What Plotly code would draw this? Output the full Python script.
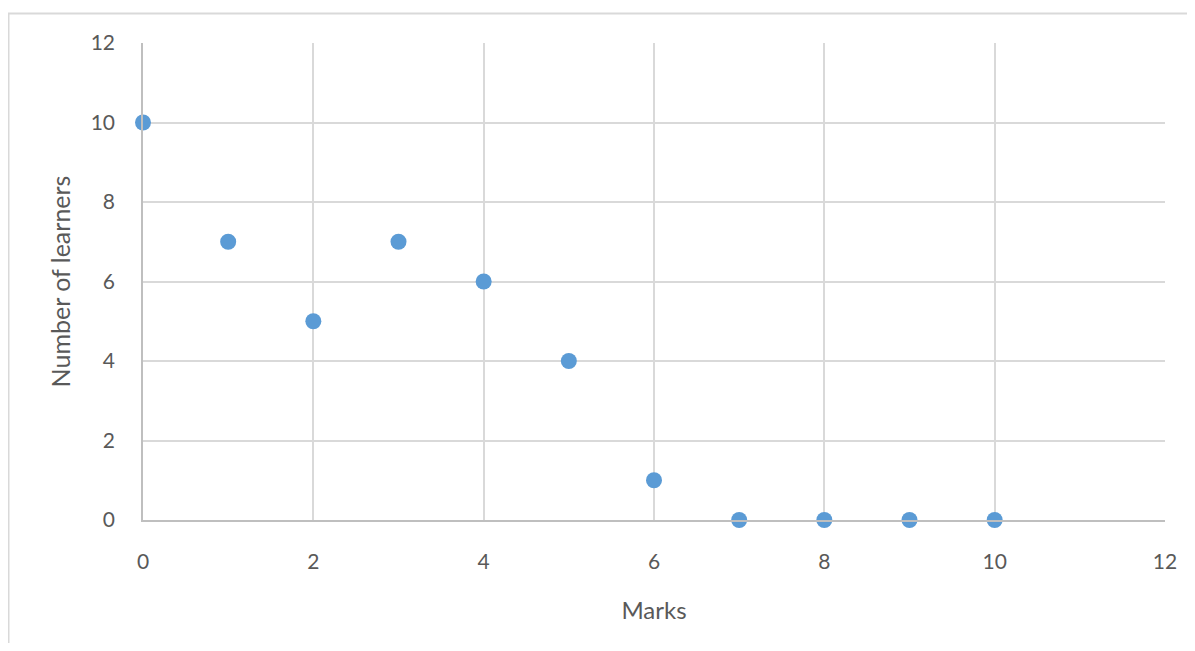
import plotly.graph_objects as go

marks = [0, 1, 2, 3, 4, 5, 6, 7, 8, 9, 10]
learners = [10, 7, 5, 7, 6, 4, 1, 0, 0, 0, 0]
tick_vals = [0, 2, 4, 6, 8, 10, 12]

# page has an 8px body margin; the figure starts at (8, 8)
OFF = 8
W, H = 1195 - 2 * OFF, 651 - 2 * OFF
L, T = 143 - OFF, 43 - OFF
pw, ph = 1022, 477
R, B = W - L - pw, H - T - ph

fig = go.Figure()
fig.add_trace(go.Scatter(
    x=marks, y=learners, mode="markers",
    marker=dict(color="#5b9bd5", size=16, line=dict(width=0)),
    cliponaxis=False, showlegend=False,
))

FAM = "Lato, Carlito, Open Sans, sans-serif"
font = dict(family=FAM, color="#595959", size=21)

fig.update_layout(
    width=W, height=H,
    margin=dict(l=L, r=R, t=T, b=B, autoexpand=False),
    paper_bgcolor="white", plot_bgcolor="white",
    font=font,
    xaxis=dict(
        range=[0, 12], tickvals=tick_vals, ticktext=[str(v) for v in tick_vals],
        showgrid=True, gridcolor="#d9d9d9", gridwidth=1.5,
        showline=True, linecolor="#bfbfbf", linewidth=1.5,
        zeroline=False, ticks="outside", ticklen=22, tickcolor="rgba(0,0,0,0)",
        title=dict(text="Marks", font=dict(family=FAM, size=24, color="#595959"), standoff=30),
    ),
    yaxis=dict(
        range=[0, 12], tickvals=tick_vals, ticktext=[str(v) for v in tick_vals],
        showgrid=True, gridcolor="#d9d9d9", gridwidth=1.5,
        showline=True, linecolor="#bfbfbf", linewidth=1.5,
        zeroline=False, ticks="outside", ticklen=22, tickcolor="rgba(0,0,0,0)",
        title=dict(text="Number of learners", font=dict(family=FAM, size=25, color="#595959"), standoff=13),
    ),
    shapes=[dict(
        type="rect", xref="paper", yref="paper",
        x0=(8.5 - 143) / pw, x1=(1195 + 20 - 143) / pw,
        y0=-(651 + 20 - 520) / ph, y1=(520 - 13.5) / ph,
        line=dict(color="#d9d9d9", width=2), layer="below",
    )],
)

fig.write_html("out.html")
